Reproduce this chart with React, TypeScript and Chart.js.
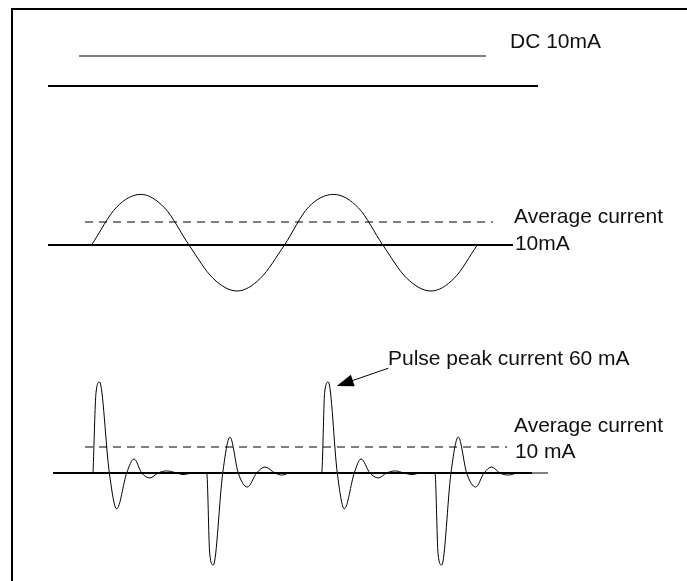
import React, { useEffect, useRef } from "react";
import { Chart, registerables } from "chart.js";

Chart.register(...registerables);

const W = 687;
const H = 581;

// ---- time axis (ms) ----
const TIME_MIN = 0;
const TIME_MAX = 71.25;

// ---- Panel 1: DC 10 mA ----
const dcTraceSpan = [8.19, 50.4];
const dcTraceCurrent = 10;
const dcZeroSpan = [4.98, 55.8];

// ---- Panel 2: sine current, average 10 mA ----
const sineTime = [9.5, 12.1, 14.6, 17.1, 19.6, 22.1, 24.6, 27.0, 29.5, 32.0, 34.6, 37.2, 39.7, 42.2, 44.7, 47.1, 49.5];
const sineCurrent = [0, 16.5, 22, 16, 0, -14.5, -20, -14.5, 0, 16.5, 22, 16, 0, -14.5, -20, -14.5, 0];
const sineZeroSpan = [4.98, 53.2];
const sineAverageSpan = [8.82, 51.13];
const sineAverage = 10;

// ---- Panel 3: pulse current, average 10 mA ----
const pulseTime = [
  9.65, 9.96, 10.32, 11.34, 12.1, 13.14, 13.9, 14.7, 15.56, 16.39, 17.29, 18.33, 18.98, 20.02,
  21.44, 21.75, 22.12, 23.1, 23.85, 24.71, 25.65, 26.62, 27.48, 28.52, 29.22, 30.08,
  33.36, 33.67, 34.05, 34.98, 35.71, 36.74, 37.44, 38.37, 39.23, 40.1, 40.97, 41.9, 42.7, 43.66,
  45.11, 45.43, 45.81, 46.77, 47.53, 48.4, 49.33, 50.2, 50.99, 51.85, 52.72, 53.72, 56.83,
];
const pulseCurrent = [
  0, 31, 35, 0, -13.8, 0, 5.4, 0, -1.9, 0, 0.8, 0, -0.6, 0,
  0, -31, -35.4, 0, 13.8, 0, -5.4, 0, 2.3, 0, -0.8, 0,
  0, 31, 35, 0, -13.8, 0, 5.4, 0, -1.9, 0, 0.8, 0, -0.6, 0,
  0, -31, -35.4, 0, 13.8, 0, -5.4, 0, 2.3, 0, -0.8, 0, 0,
];
const pulseZeroSpan = [5.5, 55.17];
const pulseAverageSpan = [8.82, 52.6];
const pulseAverage = 10;

// ---- annotations (time ms, current mA on the panel's axis) ----
const noteTexts = ["DC 10mA", "Average current", "10mA", "Pulse peak current 60 mA", "Average current", "10 mA"];
const noteTimes = [52.89, 53.31, 53.4, 40.24, 53.31, 53.4];
const noteCurrents = [12.67, 9.57, -2.17, 41.5, 15.8, 5.8];
const noteAxes = ["yDC", "ySine", "ySine", "yPulse", "yPulse", "yPulse"];

// arrow: from label to pulse peak (ms, mA on pulse axis)
const arrowFrom = [40.27, 40.3];
const arrowTo = [34.92, 33.46];

// panel axis layout: pixel of zero current, pixels per mA
function panelRange(zeroPx: number, pxPerMA: number) {
  return { min: -(H - zeroPx) / pxPerMA, max: zeroPx / pxPerMA };
}

const FONT = '21px "Liberation Sans", Arial, sans-serif';

const annotationPlugin = {
  id: "notes",
  afterDatasetsDraw(chart: any) {
    const ctx = chart.ctx;
    const xs = chart.scales.x;
    ctx.save();
    // frame
    ctx.fillStyle = "#000";
    ctx.fillRect(11, 8, W - 11, 2);
    ctx.fillRect(11, 8, 2, H - 8);
    // texts
    ctx.font = FONT;
    ctx.textAlign = "left";
    ctx.textBaseline = "alphabetic";
    ctx.fillStyle = "#111";
    noteTexts.forEach((t, i) => {
      const px = xs.getPixelForValue(noteTimes[i]);
      const py = chart.scales[noteAxes[i]].getPixelForValue(noteCurrents[i]);
      ctx.fillText(t, px, py);
    });
    // arrow
    const ys = chart.scales.yPulse;
    const x1 = xs.getPixelForValue(arrowFrom[0]);
    const y1 = ys.getPixelForValue(arrowFrom[1]);
    const x2 = xs.getPixelForValue(arrowTo[0]);
    const y2 = ys.getPixelForValue(arrowTo[1]);
    const dx = x2 - x1;
    const dy = y2 - y1;
    const len = Math.hypot(dx, dy);
    const ux = dx / len;
    const uy = dy / len;
    const head = 17;
    const half = 6;
    const bx = x2 - ux * head;
    const by = y2 - uy * head;
    ctx.strokeStyle = "#000";
    ctx.lineWidth = 1;
    ctx.beginPath();
    ctx.moveTo(x1, y1);
    ctx.lineTo(bx + ux * 2, by + uy * 2);
    ctx.stroke();
    ctx.fillStyle = "#000";
    ctx.beginPath();
    ctx.moveTo(x2, y2);
    ctx.lineTo(bx - uy * half, by + ux * half);
    ctx.lineTo(bx + uy * half, by - ux * half);
    ctx.closePath();
    ctx.fill();
    ctx.restore();
  },
};

function segment(span: number[], value: number) {
  return [
    { x: span[0], y: value },
    { x: span[1], y: value },
  ];
}

export default function App() {
  const ref = useRef<HTMLCanvasElement | null>(null);

  useEffect(() => {
    if (!ref.current) return;
    const thin = { borderColor: "#000", borderWidth: 1, pointRadius: 0, fill: false };
    const thick = { borderColor: "#000", borderWidth: 2, pointRadius: 0, fill: false };
    const dashed = { borderColor: "#000", borderWidth: 1, pointRadius: 0, fill: false, borderDash: [8, 6] };

    const chart = new Chart(ref.current, {
      type: "line",
      data: {
        datasets: [
          { label: "DC current", data: segment(dcTraceSpan, dcTraceCurrent), yAxisID: "yDC", ...thin },
          { label: "DC zero", data: segment(dcZeroSpan, 0), yAxisID: "yDC", ...thick },
          {
            label: "Sine current",
            data: sineTime.map((t, i) => ({ x: t, y: sineCurrent[i] })),
            yAxisID: "ySine",
            cubicInterpolationMode: "monotone",
            ...thin,
          },
          { label: "Sine zero", data: segment(sineZeroSpan, 0), yAxisID: "ySine", ...thick },
          { label: "Sine average", data: segment(sineAverageSpan, sineAverage), yAxisID: "ySine", ...dashed },
          {
            label: "Pulse current",
            data: pulseTime.map((t, i) => ({ x: t, y: pulseCurrent[i] })),
            yAxisID: "yPulse",
            cubicInterpolationMode: "monotone",
            ...thin,
          },
          { label: "Pulse zero", data: segment(pulseZeroSpan, 0), yAxisID: "yPulse", ...thick },
          { label: "Pulse average", data: segment(pulseAverageSpan, pulseAverage), yAxisID: "yPulse", ...dashed },
        ],
      },
      options: {
        animation: false,
        responsive: false,
        maintainAspectRatio: false,
        layout: { padding: 0 },
        events: [],
        plugins: { legend: { display: false }, tooltip: { enabled: false } },
        scales: {
          x: { type: "linear", min: TIME_MIN, max: TIME_MAX, display: false },
          yDC: { type: "linear", axis: "y", display: false, ...panelRange(86, 3) },
          ySine: { type: "linear", axis: "y", display: false, ...panelRange(245, 2.3) },
          yPulse: { type: "linear", axis: "y", display: false, ...panelRange(473, 2.6) },
        },
      } as any,
      plugins: [annotationPlugin],
    });
    return () => chart.destroy();
  }, []);

  return (
    <div style={{ position: "absolute", left: 0, top: 0, width: W, height: H, background: "#fff" }}>
      <canvas ref={ref} width={W} height={H} style={{ display: "block" }} />
    </div>
  );
}
